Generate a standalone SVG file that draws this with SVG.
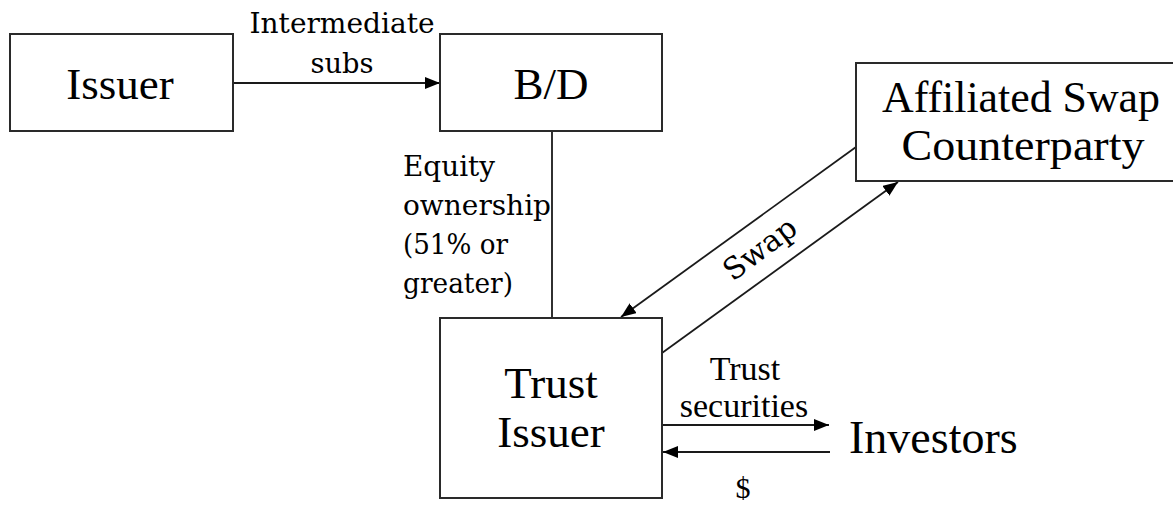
<svg xmlns="http://www.w3.org/2000/svg" width="1173" height="506" viewBox="0 0 1173 506">
  <style>
    .box { fill: #ffffff; stroke: #2a2a2a; stroke-width: 2; }
    .link { fill: none; stroke: #1a1a1a; stroke-width: 1.8; }
    .t { font-family: "Liberation Serif", "Times New Roman", serif; fill: #000; }
    .g { font-family: "DejaVu Serif", Georgia, serif; fill: #000; }
    .big { font-size: 45px; text-anchor: middle; }
    .mid { font-size: 34px; text-anchor: middle; }
  </style>
  <defs>
    <marker id="arrow" markerUnits="userSpaceOnUse" markerWidth="16" markerHeight="12" refX="15" refY="6" orient="auto">
      <path d="M0,0 L15,6 L0,12 z" fill="#000"/>
    </marker>
  </defs>

  <rect width="1173" height="506" fill="#ffffff"/>

  <!-- connectors -->
  <g id="connectors">
    <line class="link" x1="233" y1="83" x2="440" y2="83" marker-end="url(#arrow)"/>
    <line class="link" x1="552" y1="131" x2="552" y2="318"/>
    <line class="link" x1="856" y1="147" x2="621" y2="317" marker-end="url(#arrow)"/>
    <line class="link" x1="662" y1="353" x2="898" y2="182" marker-end="url(#arrow)"/>
    <line class="link" x1="662" y1="425" x2="829" y2="425" marker-end="url(#arrow)"/>
    <line class="link" x1="830" y1="452" x2="663" y2="452" marker-end="url(#arrow)"/>

    <text class="g" font-size="27" x="342" y="33" text-anchor="middle" textLength="185" lengthAdjust="spacingAndGlyphs">Intermediate</text>
    <text class="g" font-size="27" x="342" y="73" text-anchor="middle" textLength="63" lengthAdjust="spacingAndGlyphs">subs</text>

    <text class="g" font-size="28" x="403" y="176" textLength="92" lengthAdjust="spacingAndGlyphs">Equity</text>
    <text class="g" font-size="28" x="403" y="215" textLength="148" lengthAdjust="spacingAndGlyphs">ownership</text>
    <text class="g" font-size="28" x="403" y="254" textLength="105" lengthAdjust="spacingAndGlyphs">(51% or</text>
    <text class="g" font-size="28" x="403" y="293" textLength="110" lengthAdjust="spacingAndGlyphs">greater)</text>

    <text class="g" font-size="30" text-anchor="middle" transform="translate(760,249) rotate(-37)" x="0" y="10">Swap</text>

    <text class="t mid" x="745" y="380">Trust</text>
    <text class="t mid" x="744" y="417">securities</text>
    <text class="t" font-size="30" x="743" y="498" text-anchor="middle">$</text>
  </g>

  <!-- nodes -->
  <g id="issuer">
    <rect class="box" x="10" y="34" width="223" height="97"/>
    <text class="t big" x="120" y="99">Issuer</text>
  </g>

  <g id="bd">
    <rect class="box" x="440" y="34" width="222" height="97"/>
    <text class="t big" x="551" y="99">B/D</text>
  </g>

  <g id="swap-counterparty">
    <rect class="box" x="856" y="63" width="330" height="118"/>
    <text class="t big" x="1021" y="112" textLength="278" lengthAdjust="spacingAndGlyphs">Affiliated Swap</text>
    <text class="t big" x="1023" y="160" textLength="243" lengthAdjust="spacingAndGlyphs">Counterparty</text>
  </g>

  <g id="trust-issuer">
    <rect class="box" x="440" y="318" width="222" height="180"/>
    <text class="t big" x="551" y="398">Trust</text>
    <text class="t big" x="551" y="447">Issuer</text>
  </g>

  <g id="investors">
    <text class="t" font-size="46" x="849" y="453">Investors</text>
  </g>
</svg>
